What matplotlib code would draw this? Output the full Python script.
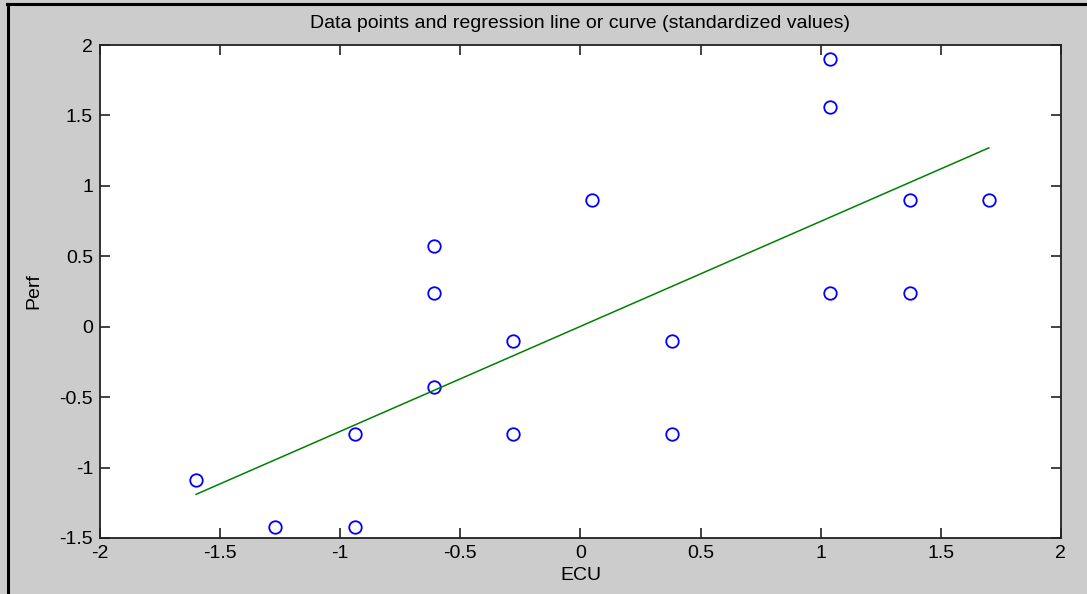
import matplotlib
matplotlib.use("Agg")
import matplotlib.pyplot as plt
from matplotlib.lines import Line2D

# standardized data points
ecu = [-1.60, -1.27, -0.94, -0.94, -0.61, -0.61, -0.61, -0.28, -0.28,
       0.05, 0.38, 0.38, 1.04, 1.04, 1.04, 1.37, 1.37, 1.70]
perf = [-1.09, -1.42, -1.42, -0.76, 0.57, 0.24, -0.43, -0.10, -0.76,
        0.90, -0.10, -0.76, 1.90, 1.56, 0.24, 0.90, 0.24, 0.90]

# regression line end points
reg_x = [-1.60, 1.70]
reg_y = [-1.19, 1.27]

xticks = [-2, -1.5, -1, -0.5, 0, 0.5, 1, 1.5, 2]
yticks = [-1.5, -1, -0.5, 0, 0.5, 1, 1.5, 2]

plt.rcParams['font.family'] = ['Liberation Sans', 'DejaVu Sans']

fig = plt.figure(figsize=(10.87, 5.94), dpi=100, facecolor='#cccccc')
ax = fig.add_axes([0.092, 0.0943, 0.884, 0.8298])

ax.plot(ecu, perf, 'o', mfc='none', mec='#0000ff', ms=9, mew=1.3)
ax.plot(reg_x, reg_y, '-', color='#008000', lw=1.1)

ax.set_xlim(-2, 2)
ax.set_ylim(-1.5, 2)
ax.set_xticks(xticks)
ax.set_xticklabels(['%g' % t for t in xticks])
ax.set_yticks(yticks)
ax.set_yticklabels(['%g' % t for t in yticks])
ax.tick_params(direction='in', length=7, width=1.2, labelsize=14,
               top=True, right=True, color='#222222', pad=5)
for s in ax.spines.values():
    s.set_linewidth(1.3)
    s.set_color('#222222')

ax.set_title("Data points and regression line or curve (standardized values)",
             fontsize=14, pad=12)
ax.set_xlabel("ECU", fontsize=14, labelpad=4)
ax.set_ylabel("Perf", fontsize=14, labelpad=12)

# window frame lines (left and top)
fig.add_artist(Line2D([0.0074, 0.0074], [0, 0.994], transform=fig.transFigure,
                      color='black', lw=2.2))
fig.add_artist(Line2D([0.0065, 1.0], [0.9925, 0.9925], transform=fig.transFigure,
                      color='black', lw=2.2))

fig.savefig("out.png", dpi=100, facecolor=fig.get_facecolor())
